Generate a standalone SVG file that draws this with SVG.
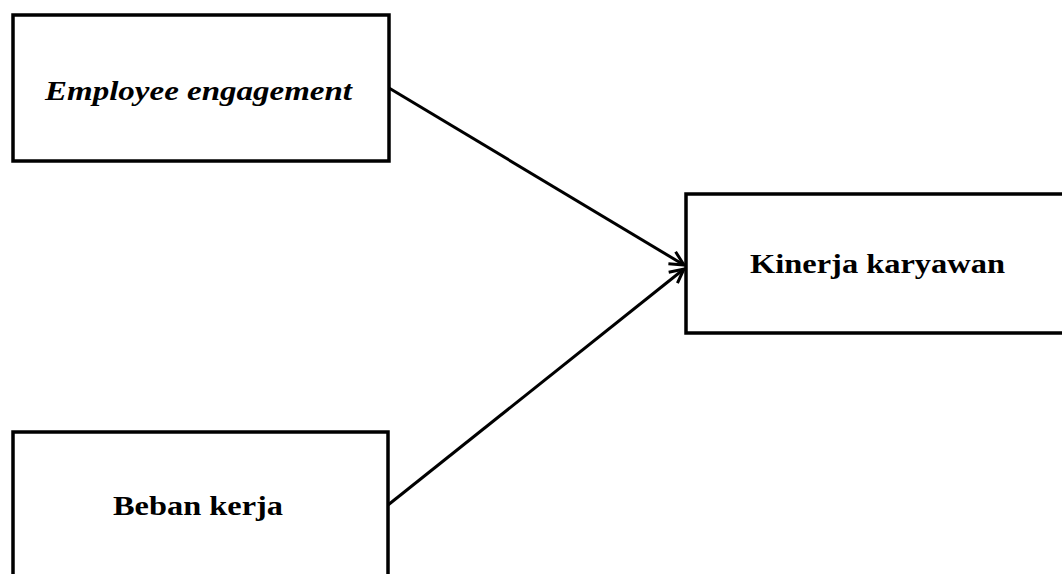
<svg xmlns="http://www.w3.org/2000/svg" width="1062" height="574" viewBox="0 0 1062 574">
<style>
.box{fill:#fff;stroke:#000;stroke-width:3.5}
.lbl{font-family:"Liberation Serif",serif;font-weight:bold;font-size:28px;fill:#000;text-anchor:middle}
.conn{stroke:#000;stroke-width:3;fill:none}
</style>
<defs>
<marker id="arr" markerWidth="20" markerHeight="20" refX="15" refY="8" orient="auto" markerUnits="userSpaceOnUse" viewBox="0 0 20 16">
<path d="M1,1 L15,8 L1,15" fill="none" stroke="#000" stroke-width="3"/>
</marker>
</defs>
<rect width="1062" height="574" fill="#fff"/>
<g id="node-employee">
<rect class="box" x="13" y="15" width="376" height="146"/>
<text class="lbl" x="198.5" y="100" font-style="italic" textLength="307" lengthAdjust="spacingAndGlyphs">Employee engagement</text>
</g>
<g id="node-kinerja">
<rect class="box" x="686" y="194" width="390" height="139"/>
<text class="lbl" x="877.5" y="273" textLength="255" lengthAdjust="spacingAndGlyphs">Kinerja karyawan</text>
</g>
<g id="node-beban">
<rect class="box" x="13" y="432" width="375" height="160"/>
<text class="lbl" x="198" y="515" textLength="170" lengthAdjust="spacingAndGlyphs">Beban kerja</text>
</g>
<g id="connectors">
<line class="conn" x1="389" y1="88" x2="684" y2="265" marker-end="url(#arr)"/>
<line class="conn" x1="388" y1="505" x2="684" y2="269" marker-end="url(#arr)"/>
</g>
</svg>
